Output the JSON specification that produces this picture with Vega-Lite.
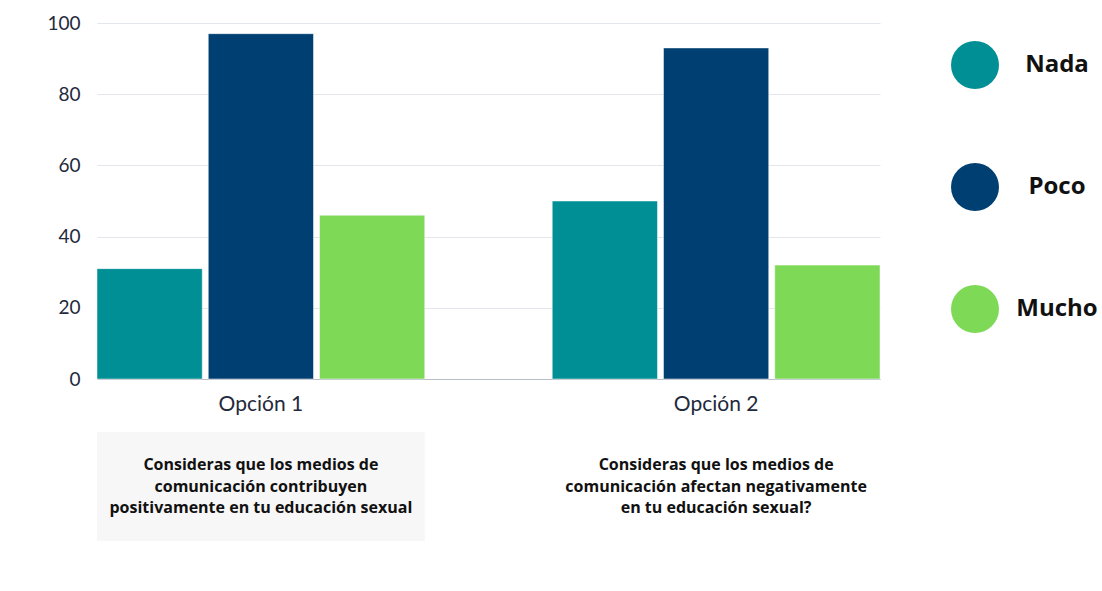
{
  "$schema": "https://vega.github.io/schema/vega-lite/v6.json",
  "background": "white",
  "padding": {"left": 46, "top": 14, "right": 0, "bottom": 0},
  "config": {"view": {"stroke": null}, "font": "Lato", "concat": {"spacing": 18}},
  "datasets": {
    "bars": [
      {"opcion": "Opción 1", "nivel": "Nada", "valor": 31},
      {"opcion": "Opción 1", "nivel": "Poco", "valor": 97},
      {"opcion": "Opción 1", "nivel": "Mucho", "valor": 46},
      {"opcion": "Opción 2", "nivel": "Nada", "valor": 50},
      {"opcion": "Opción 2", "nivel": "Poco", "valor": 93},
      {"opcion": "Opción 2", "nivel": "Mucho", "valor": 32}
    ],
    "questions": [
      {"opcion": "Opción 1", "line": 1, "text": "Consideras que los medios de"},
      {"opcion": "Opción 1", "line": 2, "text": "comunicación contribuyen"},
      {"opcion": "Opción 1", "line": 3, "text": "positivamente en tu educación sexual"},
      {"opcion": "Opción 2", "line": 1, "text": "Consideras que los medios de"},
      {"opcion": "Opción 2", "line": 2, "text": "comunicación afectan negativamente"},
      {"opcion": "Opción 2", "line": 3, "text": "en tu educación sexual?"}
    ],
    "box": [{"opcion": "Opción 1"}]
  },
  "vconcat": [
    {
      "width": 783,
      "height": 356,
      "data": {"name": "bars"},
      "mark": {"type": "bar", "stroke": "#ffffff", "strokeWidth": 0.5},
      "encoding": {
        "x": {
          "field": "opcion", "type": "nominal",
          "scale": {"paddingInner": 0.28, "paddingOuter": 0},
          "axis": {"title": null, "labelAngle": 0, "ticks": false, "labelPadding": 14, "labelFontSize": 21, "labelColor": "#1f2a3c", "domainColor": "#b9bec6", "labelFont": "Lato"}
        },
        "xOffset": {"field": "nivel", "sort": ["Nada", "Poco", "Mucho"], "scale": {"paddingInner": 0.054, "paddingOuter": 0}},
        "y": {
          "field": "valor", "type": "quantitative",
          "scale": {"domain": [0, 100]},
          "axis": {"title": null, "values": [0, 20, 40, 60, 80, 100], "domain": false, "ticks": false, "labelPadding": 17, "labelFontSize": 19, "labelColor": "#1f2a3c", "gridColor": "#e3e6ea"}
        },
        "color": {
          "field": "nivel", "type": "nominal",
          "scale": {"domain": ["Nada", "Poco", "Mucho"], "range": ["#008F94", "#003F72", "#7ED957"]},
          "legend": {
            "title": null, "orient": "right", "offset": 52, "padding": 18,
            "symbolType": "circle", "symbolSize": 2304, "symbolStrokeWidth": 0, "symbolOpacity": 1,
            "rowPadding": 74, "labelFont": "Open Sans", "labelFontWeight": "bold", "labelFontSize": 24,
            "labelColor": "#111111", "labelAlign": "center", "labelOffset": 58, "labelLimit": 200
          }
        }
      }
    },
    {
      "width": 783,
      "height": 109,
      "layer": [
        {
          "data": {"name": "box"},
          "mark": {"type": "bar", "color": "#f7f7f7"},
          "encoding": {
            "x": {"field": "opcion", "type": "nominal", "scale": {"domain": ["Opción 1", "Opción 2"], "paddingInner": 0.28, "paddingOuter": 0}, "axis": null}
          }
        },
        {
          "data": {"name": "questions"},
          "mark": {"type": "text", "font": "Open Sans", "fontWeight": "bold", "fontSize": 16, "color": "#111111", "baseline": "middle", "align": "center"},
          "encoding": {
            "x": {"field": "opcion", "type": "nominal", "scale": {"domain": ["Opción 1", "Opción 2"], "paddingInner": 0.28, "paddingOuter": 0}, "axis": null, "bandPosition": 0.5},
            "y": {"field": "line", "type": "ordinal", "scale": {"type": "point", "domain": [0, 1, 2, 3, 4], "padding": 0.5}, "axis": null},
            "text": {"field": "text"}
          }
        }
      ]
    }
  ]
}
